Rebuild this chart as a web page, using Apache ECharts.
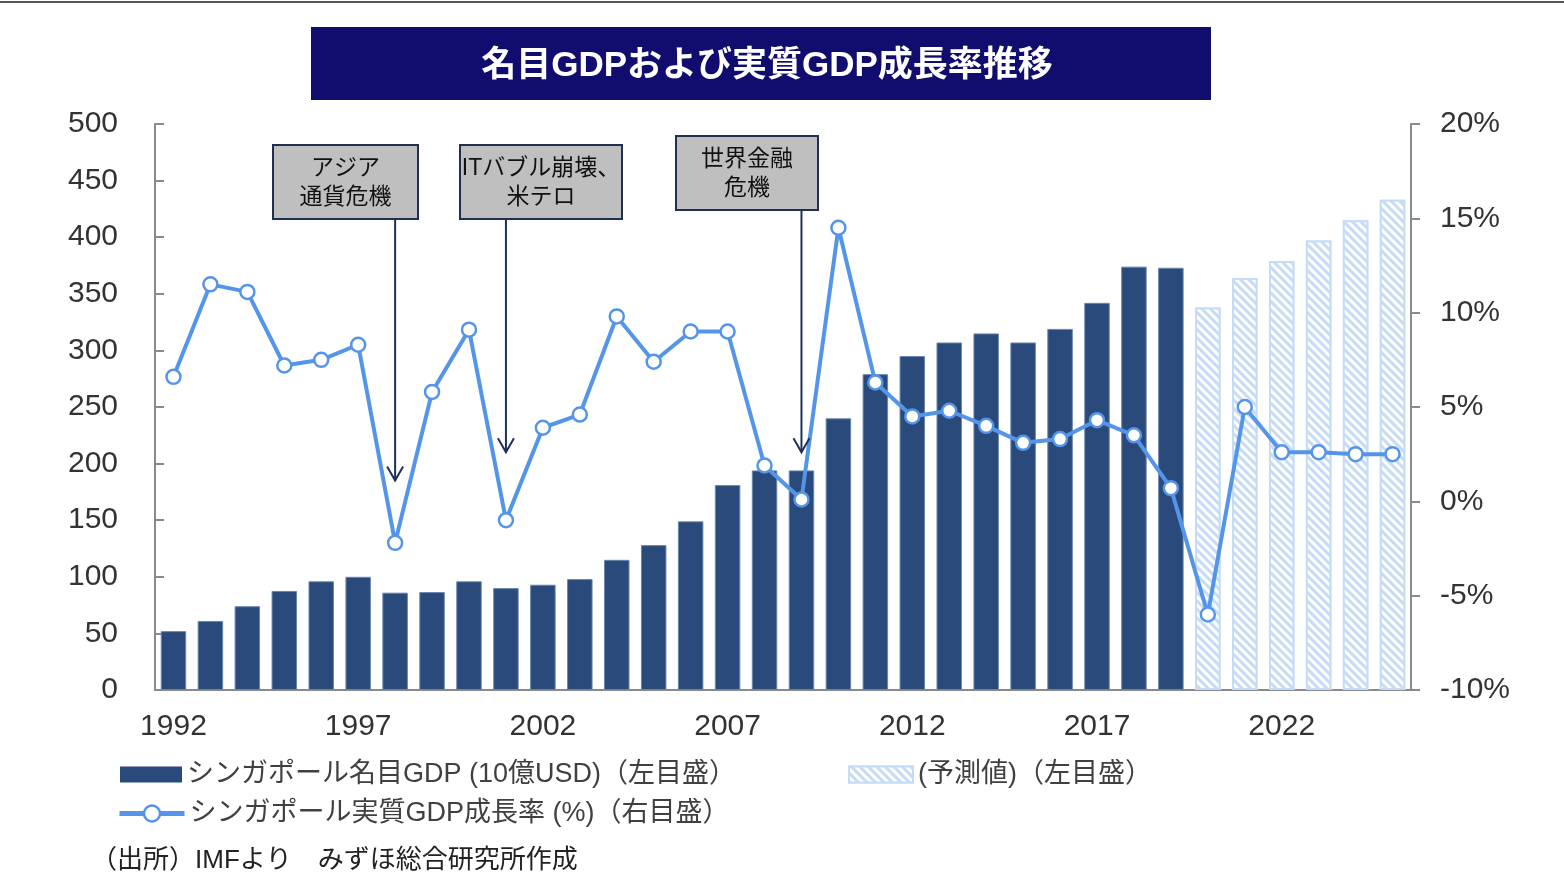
<!DOCTYPE html>
<html><head><meta charset="utf-8">
<script src="https://cdn.jsdelivr.net/npm/echarts@6/dist/echarts.min.js"></script>
<style>html,body{margin:0;padding:0;background:#fff}#c{width:1564px;height:882px}</style>
</head><body><div id="c"></div>
<script>
const years = ['1992','1993','1994','1995','1996','1997','1998','1999','2000','2001','2002','2003','2004','2005','2006','2007','2008','2009','2010','2011','2012','2013','2014','2015','2016','2017','2018','2019','2020','2021','2022','2023','2024','2025'];
const gdpActual = [52,61,74,87.5,96,100,86,86.5,96,90,93,98,115,128,149,181,194,194,240,279,295,307,315,307,319,342,374,373];
const forecastYears = ['2020','2021','2022','2023','2024','2025'];
const gdpForecast = [338,364,379,397,415,433];
const growth = [6.6,11.5,11.1,7.2,7.5,8.3,-2.2,5.8,9.1,-1.0,3.9,4.6,9.8,7.4,9.0,9.0,1.9,0.1,14.5,6.3,4.5,4.8,4.0,3.1,3.3,4.3,3.5,0.7,-6.0,5.0,2.6,2.6,2.5,2.5];
const leftTicks = {min:0, max:500, interval:50};
const rightTicks = {min:-10, max:20, interval:5};
const titleText = '名目GDPおよび実質GDP成長率推移';
const nameBar = 'シンガポール名目GDP (10億USD)（左目盛）';
const nameForecast = '(予測値)（左目盛）';
const nameLine = 'シンガポール実質GDP成長率 (%)（右目盛）';
const sourceText = '（出所）IMFより　みずほ総合研究所作成';
const annotYears = ['1998','2001','2009'];
const annotTexts = ['アジア\n通貨危機','ITバブル崩壊、\n米テロ','世界金融\n危機'];
const annotTips = [1.1, 2.6, 2.6];

const barData = years.map((y,i)=> i < gdpActual.length ? gdpActual[i] : null);
const fcData = years.map(y=> { const k = forecastYears.indexOf(y); return k>=0 ? gdpForecast[k] : null; });

const FONT = "'Liberation Sans','Noto Sans CJK JP',sans-serif";
const chart = echarts.init(document.getElementById('c'), null, {renderer:'canvas'});
const axisCol = '#8a8a8a';
const legendText = {fontSize:27, color:'#404040', fontFamily:FONT};
const option = {
  animation:false,
  backgroundColor:'#fff',
  textStyle:{fontFamily:FONT},
  grid:{left:155, right:153, top:124, bottom:192, containLabel:false},
  xAxis:{type:'category', data:years,
    axisLine:{lineStyle:{color:axisCol, width:2}},
    axisTick:{inside:true, length:9, interval:4, lineStyle:{color:axisCol,width:2}},
    axisLabel:{interval:4, margin:22, fontSize:30, color:'#333', fontFamily:FONT}
  },
  yAxis:[
    {type:'value', min:leftTicks.min, max:leftTicks.max, interval:leftTicks.interval, splitLine:{show:false},
     axisLine:{show:true, lineStyle:{color:axisCol,width:2}},
     axisTick:{show:true, inside:true, length:9, lineStyle:{color:axisCol,width:2}},
     axisLabel:{fontSize:30, color:'#333', margin:37, fontFamily:FONT}},
    {type:'value', min:rightTicks.min, max:rightTicks.max, interval:rightTicks.interval, splitLine:{show:false},
     axisLine:{show:true, lineStyle:{color:axisCol,width:2}},
     axisTick:{show:true, inside:false, length:9, lineStyle:{color:axisCol,width:2}},
     axisLabel:{fontSize:30, color:'#333', margin:29, formatter:'{value}%', fontFamily:FONT}}
  ],
  legend:[
    {data:[{name:nameBar, icon:'rect'}], left:120, top:761, padding:0, itemWidth:62, itemHeight:16, itemGap:0, textStyle:legendText,
     itemStyle:{borderWidth:0}},
    {data:[{name:nameForecast, icon:'rect'}], left:848, top:761, padding:0, itemWidth:64, itemHeight:16, textStyle:legendText},
    {data:[nameLine], left:117, top:800, padding:0, itemWidth:65, itemHeight:20, textStyle:legendText,
     lineStyle:{width:5, color:'#5595e9'}, itemStyle:{color:'#fff', borderColor:'#5595e9', borderWidth:2.5}}
  ],
  series:[
    {name:nameBar, type:'bar', data:barData, yAxisIndex:0, barWidth:'69%', barGap:'-100%',
     itemStyle:{color:'#294a7a', borderColor:'#6a86ad', borderWidth:1}},
    {name:nameForecast, type:'bar', data:fcData, yAxisIndex:0, barWidth:'69%', barGap:'-100%',
     itemStyle:{color:'#c6dcf6', borderColor:'#c6dcf6', borderWidth:2,
       decal:{symbol:'rect', color:'#ffffff', dashArrayX:[1,0], dashArrayY:[3,3], rotation:Math.PI/4}}},
    {name:nameLine, type:'line', data:growth, yAxisIndex:1, z:5,
     lineStyle:{color:'#5595e9', width:4}, symbol:'circle', symbolSize:14, showAllSymbol:true,
     itemStyle:{color:'#ffffff', borderColor:'#5595e9', borderWidth:2.5}}
  ]
};
chart.setOption(option);

const boxes = [
  {x:273, y:145, w:145, h:74},
  {x:460, y:145, w:162, h:74},
  {x:676, y:136, w:142, h:74}
];
const g = [];
g.push({type:'line', shape:{x1:0,y1:2,x2:1564,y2:2}, style:{stroke:'#555', lineWidth:2}});
g.push({type:'rect', shape:{x:311,y:27,width:900,height:73}, style:{fill:'#110d6e'}});
g.push({type:'text', x:767, y:66, style:{text:titleText, fill:'#fff', font:"bold 35px "+FONT, align:'center', verticalAlign:'middle'}});
g.push({type:'text', x:91, y:861, style:{text:sourceText, fill:'#222', font:"26px "+FONT, align:'left', verticalAlign:'middle'}});
annotYears.forEach((yr,i)=>{
  const b = boxes[i];
  const px = chart.convertToPixel({xAxisIndex:0}, yr);
  const tipY = chart.convertToPixel({yAxisIndex:1}, annotTips[i]);
  g.push({type:'rect', shape:{x:b.x,y:b.y,width:b.w,height:b.h}, style:{fill:'#bfbfbf', stroke:'#1f3050', lineWidth:2}, z:10});
  g.push({type:'text', x:b.x+b.w/2, y:b.y+b.h/2+1, z:11, style:{text:annotTexts[i], fill:'#111', font:"23px "+FONT, align:'center', verticalAlign:'middle', lineHeight:29}});
  g.push({type:'line', shape:{x1:px,y1:b.y+b.h,x2:px,y2:tipY}, style:{stroke:'#1f2f5a', lineWidth:2}, z:10});
  g.push({type:'polyline', shape:{points:[[px-8,tipY-14],[px,tipY],[px+8,tipY-14]]}, style:{stroke:'#1f2f5a', lineWidth:2, fill:null}, z:10});
});
chart.setOption({graphic:{elements:g}});
</script></body></html>
